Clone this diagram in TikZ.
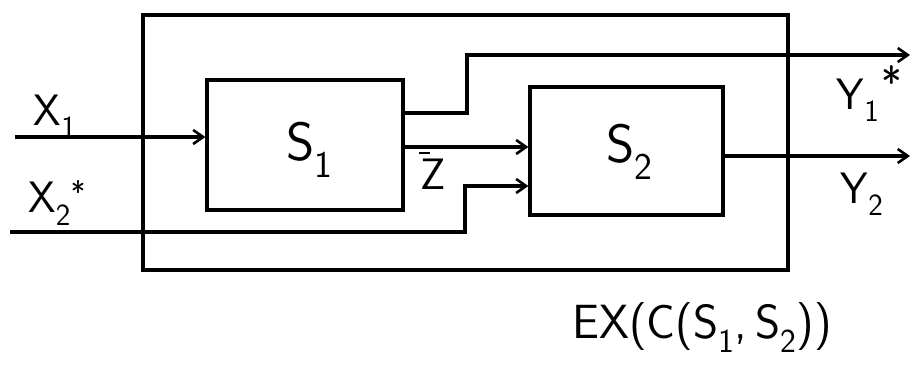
\documentclass[tikz,border=0pt]{standalone}
\usetikzlibrary{arrows.meta}
\begin{document}
\begin{tikzpicture}[x=1pt,y=-1pt,
  line width=3.2pt,
  blk/.style={draw,rectangle,inner sep=0pt},
  conn/.style={draw,-{Straight Barb[length=10pt,width=14pt,line width=2.6pt]}},
  lbl/.style={font=\sffamily\fontsize{54}{58}\selectfont,inner sep=0pt},
  sublbl/.style={font=\sffamily\fontsize{44}{48}\selectfont,inner sep=0pt},
  starlbl/.style={font=\sffamily\fontsize{44}{48}\selectfont,inner sep=0pt}]
\useasboundingbox (0,0) rectangle (915,364);
% boxes
\node[blk,minimum width=645pt,minimum height=255pt] (outer) at (465.5,142.5) {};
\node[blk,minimum width=196pt,minimum height=130pt] (S1) at (305,145) {};
\node[blk,minimum width=193pt,minimum height=128pt] (S2) at (626.5,151) {};
% labels
\node[lbl] (S1l) at (310,150) {S\textsubscript{1}};
\node[lbl] (S2l) at (630,152) {S\textsubscript{2}};
\node[sublbl] (x1l) at (55,116) {X\textsubscript{1}};
\node[sublbl] (x2l) at (57,203) {X\textsubscript{2}\textsuperscript{*}};
\node[sublbl] (y1l) at (858,100) {Y\textsubscript{1}};
\node[starlbl,anchor=south west] (y1s) at ([xshift=-1pt]y1l.east) {*};
\node[sublbl] (y2l) at (862,194) {Y\textsubscript{2}};
\node[sublbl] (zl) at (433,174) {Z};
\draw[line width=2pt] ([yshift=4pt]zl.north west) -- ([xshift=-3pt,yshift=4pt]zl.north);
\node[lbl,font=\sffamily\fontsize{48}{52}\selectfont] (ex) at (702,328) {EX(C(S\textsubscript{1},\,S\textsubscript{2}))};
% coordinates
\coordinate (x1in) at (15,137);
\coordinate (x2in) at (10,232);
\coordinate (x2c) at (465,232);
\coordinate (x2d) at (465,186);
\coordinate (y1a) at (403,113);
\coordinate (y1b) at (467,113);
\coordinate (y1c) at (467,55);
\coordinate (y1out) at (910,55);
\coordinate (y2out) at (910,156);
\coordinate (za) at (403,147);
% connectors
\draw[conn] (x1in) -- (x1in -| S1.west);
\draw[conn] (x2in) -- (x2c) -- (x2d) -- (x2d -| S2.west);
\draw[conn] (za) -- (za -| S2.west);
\draw[conn] (y1a) -- (y1b) -- (y1c) -- (y1out);
\draw[conn] (S2.east |- y2out) -- (y2out);
\end{tikzpicture}
\end{document}
